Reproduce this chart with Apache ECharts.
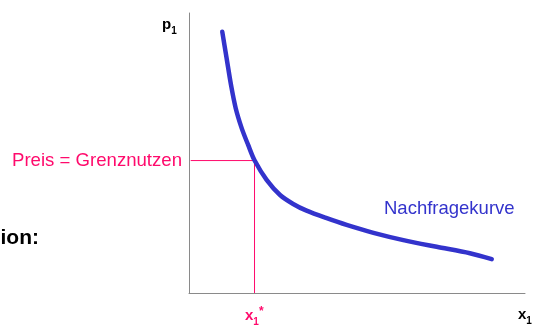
<!DOCTYPE html>
<html>
<head>
<meta charset="utf-8">
<script src="https://cdn.jsdelivr.net/npm/echarts@6/dist/echarts.min.js"></script>
<style>
html,body{margin:0;padding:0;background:#fff;}
#chart{width:536px;height:325px;}
</style>
</head>
<body>
<div id="chart"></div>
<script>
// Demand curve (Nachfragekurve) (axes 0..100)
var curveX = [9.9, 11.2, 12.5, 13.9, 15.7, 17.6, 19.5, 23.1, 27.1, 31.0, 35.0, 41.0, 46.9, 54.9, 63.8, 73.7, 83.6, 90.1];
var curveY = [93.3, 83.8, 74.3, 66.0, 58.8, 52.9, 47.4, 40.4, 35.0, 31.8, 29.4, 26.7, 24.3, 21.5, 18.9, 16.5, 14.2, 12.1];
// Equilibrium point: Preis = Grenznutzen at x1*
var eqX = 19.5;
var eqY = 47.3;
// Labels
var curveLabel = 'Nachfragekurve';
var priceLabel = 'Preis = Grenznutzen';
var cutLabel = 'ion:';

var blue = '#3333cc';
var pink = '#ff0a6c';

var chart = echarts.init(document.getElementById('chart'), null, {renderer: 'canvas'});
var curveData = curveX.map(function (x, i) { return [x, curveY[i]]; });

chart.setOption({
  animation: false,
  backgroundColor: '#ffffff',
  grid: {left: 189, right: 11, top: 13, bottom: 32},
  xAxis: {
    type: 'value', min: 0, max: 100,
    axisLine: {show: true, onZero: false, lineStyle: {color: '#8a8a8a', width: 1}},
    axisTick: {show: false}, axisLabel: {show: false}, splitLine: {show: false}
  },
  yAxis: {
    type: 'value', min: 0, max: 100,
    axisLine: {show: true, onZero: false, lineStyle: {color: '#8a8a8a', width: 1}},
    axisTick: {show: false}, axisLabel: {show: false}, splitLine: {show: false}
  },
  series: [
    {
      type: 'line',
      data: [[0.5, eqY], [eqX, eqY], [eqX, 0]],
      symbol: 'none',
      lineStyle: {color: pink, width: 1},
      z: 1
    },
    {
      type: 'line',
      data: curveData,
      smooth: 0.3,
      symbol: 'none',
      lineStyle: {color: blue, width: 4.5, cap: 'round'},
      z: 2
    }
  ],
  graphic: [
    {type: 'text', x: 182, y: 161, style: {text: priceLabel, fill: pink, font: '18.6px "Liberation Sans", Arial, sans-serif', textAlign: 'right', textVerticalAlign: 'middle'}},
    {type: 'text', x: 384, y: 209, style: {text: curveLabel, fill: blue, font: '18.5px "Liberation Sans", Arial, sans-serif', textAlign: 'left', textVerticalAlign: 'middle'}},
    {type: 'text', x: 39, y: 238, style: {text: cutLabel, fill: '#000', font: 'bold 21px "Liberation Sans", Arial, sans-serif', textAlign: 'right', textVerticalAlign: 'middle'}},
    {type: 'text', x: 162, y: 12, style: {
      text: '{a|p}{b|1}', textAlign: 'left', textVerticalAlign: 'top',
      rich: {
        a: {fill: '#000', font: 'bold 15px "Liberation Sans", Arial, sans-serif', lineHeight: 20, verticalAlign: 'bottom'},
        b: {fill: '#000', font: 'bold 10px "Liberation Sans", Arial, sans-serif', lineHeight: 20, verticalAlign: 'bottom', padding: [0, 0, -4, 0]}
      }
    }},
    {type: 'text', x: 518, y: 302, style: {
      text: '{a|x}{b|1}', textAlign: 'left', textVerticalAlign: 'top',
      rich: {
        a: {fill: '#000', font: 'bold 15px "Liberation Sans", Arial, sans-serif', lineHeight: 20, verticalAlign: 'bottom'},
        b: {fill: '#000', font: 'bold 10px "Liberation Sans", Arial, sans-serif', lineHeight: 20, verticalAlign: 'bottom', padding: [0, 0, -4, 0]}
      }
    }},
    {type: 'text', x: 245, y: 303, style: {
      text: '{a|x}{b|1}{c|*}', textAlign: 'left', textVerticalAlign: 'top',
      rich: {
        a: {fill: pink, font: 'bold 15px "Liberation Sans", Arial, sans-serif', lineHeight: 20, verticalAlign: 'bottom'},
        b: {fill: pink, font: 'bold 10px "Liberation Sans", Arial, sans-serif', lineHeight: 20, verticalAlign: 'bottom', padding: [0, 0, -4, 0]},
        c: {fill: pink, font: 'bold 12px "Liberation Sans", Arial, sans-serif', lineHeight: 20, verticalAlign: 'top', padding: [3, 0, 0, 0]}
      }
    }}
  ]
});
</script>
</body>
</html>
